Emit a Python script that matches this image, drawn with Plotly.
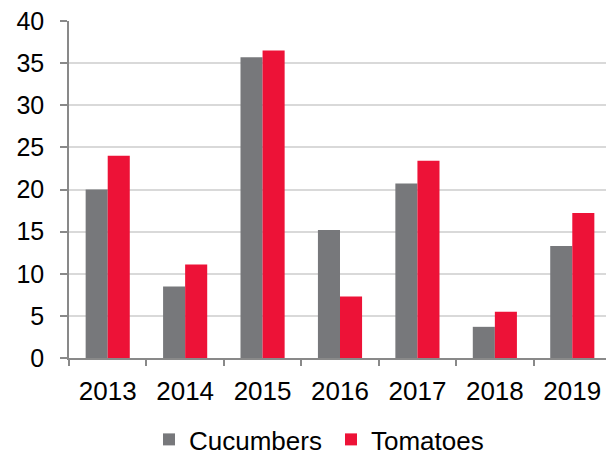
import plotly.graph_objects as go

years = ["2013", "2014", "2015", "2016", "2017", "2018", "2019"]
cucumbers = [20.0, 8.5, 35.7, 15.2, 20.7, 3.7, 13.3]
tomatoes = [24.0, 11.1, 36.5, 7.3, 23.4, 5.5, 17.2]
y_ticks = [0, 5, 10, 15, 20, 25, 30, 35, 40]

fig = go.Figure()
fig.add_trace(go.Bar(x=years, y=cucumbers, name="Cucumbers", marker_color="#77787B", marker_line_width=0))
fig.add_trace(go.Bar(x=years, y=tomatoes, name="Tomatoes", marker_color="#ED1237", marker_line_width=0))

# page body has an 8px default margin, so the figure is slightly smaller than the window
W, H = 606, 449
fig.update_layout(
    width=W, height=H,
    margin=dict(l=61, r=3, t=13, b=99, autoexpand=False),
    paper_bgcolor="white", plot_bgcolor="white",
    barmode="group", bargap=0.43, bargroupgap=0,
    font=dict(family="Liberation Sans, Arial, sans-serif", size=25, color="#000000"),
    showlegend=True,
    legend=dict(orientation="h", x=141 / W, xanchor="left", xref="container",
                y=0.039, yanchor="middle", yref="container",
                font=dict(size=26), itemwidth=30, entrywidth=137, traceorder="normal"),
    xaxis=dict(showline=True, linecolor="#898989", linewidth=1.5, ticks="outside",
               tickson="boundaries", ticklen=6, tickcolor="#898989", tickwidth=1.5,
               showgrid=False, ticklabelstandoff=9, automargin=False,
               tickfont=dict(size=26), ticklabeloverflow="allow"),
    yaxis=dict(range=[0, 40], tickvals=y_ticks, showline=True, linecolor="#898989",
               linewidth=1.5, ticks="outside", ticklen=7, tickcolor="#898989", tickwidth=1.5,
               showgrid=True, gridcolor="#D9D9D9", gridwidth=1.5, zeroline=False,
               ticklabelstandoff=11, automargin=False, tickfont=dict(size=25),
               ticklabeloverflow="allow"),
)
fig.write_html("out.html")
